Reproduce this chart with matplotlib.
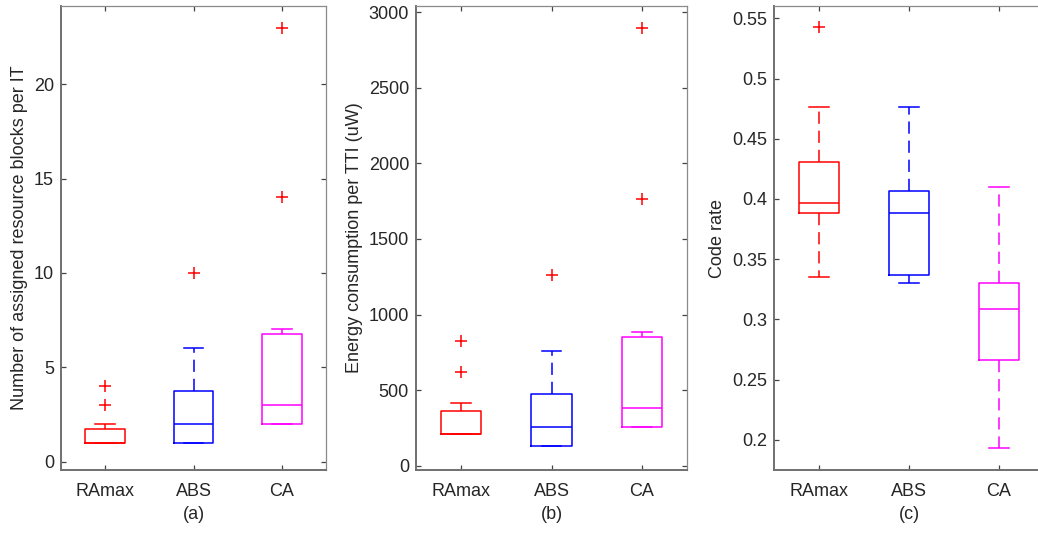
import matplotlib
matplotlib.use("Agg")
import matplotlib.pyplot as plt
from matplotlib.ticker import FuncFormatter

plt.rcParams["font.family"] = ["Liberation Sans", "DejaVu Sans"]

SCHEMES = ["RAmax", "ABS", "CA"]
COLORS = ["#ff0000", "#0000ff", "#ff00ff"]
PANEL_TAGS = ["(a)", "(b)", "(c)"]

# (a) assigned resource blocks per TTI
rb_q1 = [1, 1, 2]
rb_med = [1, 2, 3]
rb_q3 = [1.75, 3.75, 6.75]
rb_lo = [1, 1, 2]
rb_hi = [2, 6, 7]
rb_fliers = [[3, 4], [10], [14, 23]]

# (b) energy consumption per TTI (uW)
en_q1 = [209, 130, 255]
en_med = [209, 255, 381]
en_q3 = [361, 474, 850]
en_lo = [209, 130, 255]
en_hi = [414, 758, 883]
en_fliers = [[617, 826], [1260], [1762, 2897]]

# (c) code rate
cr_q1 = [0.388, 0.3372, 0.2667]
cr_med = [0.3967, 0.388, 0.3085]
cr_q3 = [0.4305, 0.4067, 0.3303]
cr_lo = [0.335, 0.330, 0.1931]
cr_hi = [0.476, 0.476, 0.410]
cr_fliers = [[0.5426], [], []]

W, H = 1038, 542
FS = 13


def make_stats(q1, med, q3, lo, hi, fliers):
    return [dict(q1=a, med=m, q3=b, whislo=l, whishi=h, fliers=f, label=s)
            for a, m, b, l, h, f, s in zip(q1, med, q3, lo, hi, fliers, SCHEMES)]


panels = [
    dict(stats=make_stats(rb_q1, rb_med, rb_q3, rb_lo, rb_hi, rb_fliers),
         ylabel="Number of assigned resource blocks per IT",
         ylim=(-0.45, 24.15), yticks=[0, 5, 10, 15, 20], left=61, right=326),
    dict(stats=make_stats(en_q1, en_med, en_q3, en_lo, en_hi, en_fliers),
         ylabel="Energy consumption per TTI (uW)",
         ylim=(-28, 3040), yticks=[0, 500, 1000, 1500, 2000, 2500, 3000], left=416, right=687),
    dict(stats=make_stats(cr_q1, cr_med, cr_q3, cr_lo, cr_hi, cr_fliers),
         ylabel="Code rate",
         ylim=(0.175, 0.5602), yticks=[0.2, 0.25, 0.3, 0.35, 0.4, 0.45, 0.5, 0.55], left=774, right=1044),
]

fig = plt.figure(figsize=(W / 100, H / 100), dpi=100)
top, bottom = 6, 470

for p, tag in zip(panels, PANEL_TAGS):
    ax = fig.add_axes([p["left"] / W, (H - bottom) / H,
                       (p["right"] - p["left"]) / W, (bottom - top) / H])
    for i, (st, col) in enumerate(zip(p["stats"], COLORS)):
        ax.bxp([st], positions=[i + 1], widths=0.45, capwidths=0.22,
               boxprops=dict(color=col, linewidth=1.1),
               medianprops=dict(color=col, linewidth=1.1),
               whiskerprops=dict(color=col, linewidth=1.1, linestyle=(0, (8, 4.5))),
               capprops=dict(color=col, linewidth=1.1),
               flierprops=dict(marker="+", markeredgecolor="#ff0000", markersize=8.5,
                               markeredgewidth=1.1, linestyle="none"))
    ax.set_xlim(0.5, 3.5)
    ax.set_ylim(*p["ylim"])
    ax.set_xticks([1, 2, 3])
    ax.set_xticklabels(SCHEMES)
    ax.set_yticks(p["yticks"])
    ax.yaxis.set_major_formatter(FuncFormatter(lambda v, pos: f"{v:g}"))
    ax.tick_params(direction="in", length=3.6, width=0.9, color="#444444",
                   labelsize=FS, labelcolor="#262626", top=True, right=True)
    ax.tick_params(axis="x", pad=9)
    ax.tick_params(axis="y", pad=5)
    for side in ("left", "bottom"):
        ax.spines[side].set_color("#707070")
        ax.spines[side].set_linewidth(1.4)
    for side in ("top", "right"):
        ax.spines[side].set_color("#8a8a8a")
        ax.spines[side].set_linewidth(0.9)
    ax.set_ylabel(p["ylabel"], fontsize=FS, color="#262626")
    ax.set_xlabel(tag, fontsize=FS, color="#262626", labelpad=5)

fig.savefig("out.png", dpi=100)
